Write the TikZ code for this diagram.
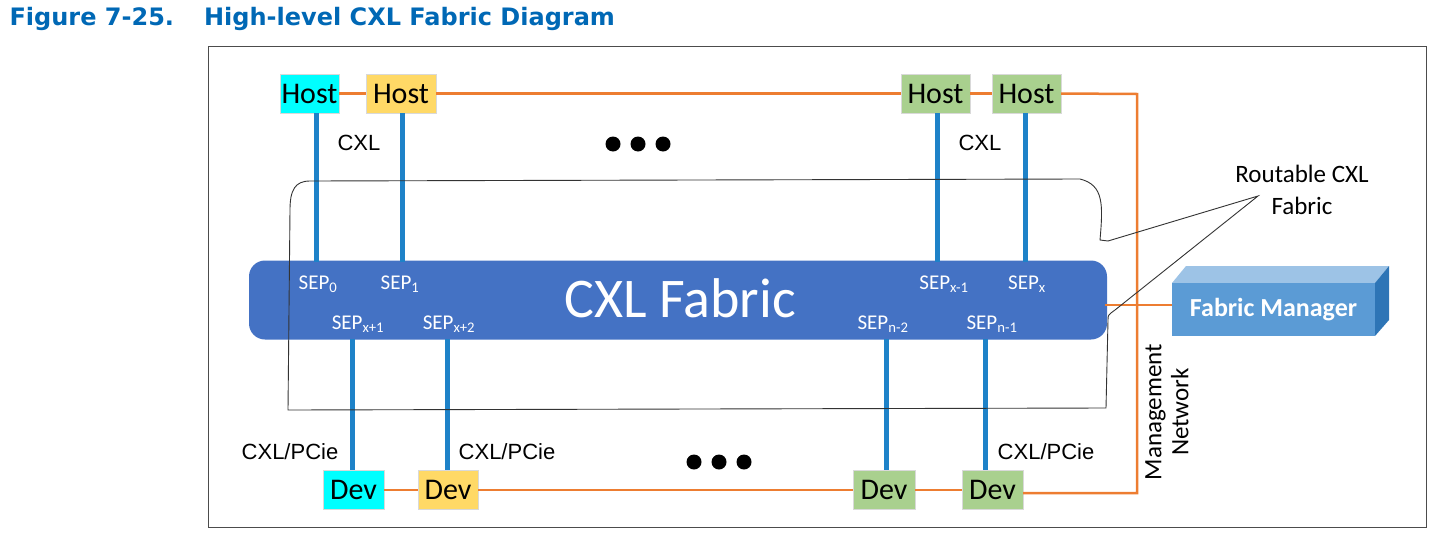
\documentclass[tikz,border=0pt]{standalone}
\usepackage{fontspec}
\setmainfont{Carlito}
\newfontfamily\titlefont{DejaVu Sans}
\newfontfamily\arialf{Liberation Sans}
\definecolor{ttl}{RGB}{0,104,181}
\definecolor{orng}{RGB}{237,125,49}
\definecolor{fab}{RGB}{68,114,196}
\definecolor{lnk}{RGB}{30,130,200}
\definecolor{cy}{RGB}{0,255,255}
\definecolor{yl}{RGB}{255,217,102}
\definecolor{gr}{RGB}{169,208,142}
\definecolor{fmf}{RGB}{91,155,213}
\definecolor{fmt}{RGB}{157,195,230}
\definecolor{fms}{RGB}{46,117,182}
\begin{document}
\begin{tikzpicture}[x=1pt,y=-1pt,
  box/.style={draw=black!15,minimum height=39pt,inner sep=0pt,font=\fontsize{30}{32}\selectfont},
  org/.style={draw=orng,line width=2.5pt},
  lk/.style={draw=lnk,line width=5pt},
  sep/.style={text=white,font=\fontsize{21}{23}\selectfont},
  lbl/.style={font=\arialf\fontsize{22}{24}\selectfont},
  dot/.style={circle,fill=black,inner sep=0pt,minimum size=15pt}]
\useasboundingbox (0,0) rectangle (1451,544);
\node[anchor=west,text=ttl,font=\titlefont\bfseries\fontsize{24}{26}\selectfont] (title) at (6,19) {Figure 7-25.\hspace{30pt}High-level CXL Fabric Diagram};
\draw[black!70] (208,46) rectangle (1426,527);
% fabric
\node[draw=none,fill=fab,rounded corners=16pt,minimum width=858pt,minimum height=79pt,inner sep=0pt] (fab) at (678,300) {};
\node[text=white,font=\fontsize{56}{60}\selectfont] (fabt) at (680,298) {CXL Fabric};
% hosts
\node[box,fill=cy,minimum width=59pt] (h0) at (309.5,93.5) {Host};
\node[box,fill=yl,minimum width=70pt] (h1) at (401,93.5) {Host};
\node[box,fill=gr,minimum width=69pt] (h2) at (935.5,93.5) {Host};
\node[box,fill=gr,minimum width=69pt] (h3) at (1026.5,93.5) {Host};
% devs
\node[box,fill=cy,minimum width=61pt] (d0) at (353.5,490) {Dev};
\node[box,fill=yl,minimum width=60pt] (d1) at (448,490) {Dev};
\node[box,fill=gr,minimum width=62pt] (d2) at (884,490) {Dev};
\node[box,fill=gr,minimum width=61pt] (d3) at (992.5,490) {Dev};
% fabric manager
\fill[fmt] (1172,283) -- (1186,266) -- (1389,266) -- (1375,283) -- cycle;
\fill[fms] (1375,283) -- (1389,266) -- (1389,320) -- (1375,336) -- cycle;
\node[fill=fmf,minimum width=203pt,minimum height=53pt,inner sep=0pt,text=white,font=\bfseries\fontsize{26}{28}\selectfont] (fm) at (1273.5,309.5) {Fabric Manager};
% management network
\coordinate (mt) at (1137,94);
\coordinate (mb) at (1137,493);
\coordinate (fe) at (1105,305);
\draw[org] (h0.east) -- (h1.west);
\draw[org] (h1.east) -- (h2.west);
\draw[org] (h2.east) -- (h3.west);
\draw[org] (h3.east) -- (mt) -- (mb) -- (d3.east |- mb);
\draw[org] (d0.east) -- (d1.west);
\draw[org] (d1.east) -- (d2.west);
\draw[org] (d2.east) -- (d3.west);
\draw[org] (fe) -- (fm.west |- fe);
\node[rotate=90,align=center,font=\fontsize{25}{27}\selectfont] (mn) at (1167,412) {Management\\Network};
% links
\draw[lk] (h0.south -| 316,0) -- (316,262);
\draw[lk] (h1.south -| 402,0) -- (402,262);
\draw[lk] (h2.south -| 937,0) -- (937,262);
\draw[lk] (h3.south -| 1025,0) -- (1025,262);
\draw[lk] (352,339) -- (d0.north -| 352,0);
\draw[lk] (447,339) -- (d1.north -| 447,0);
\draw[lk] (886,339) -- (d2.north -| 886,0);
\draw[lk] (985,339) -- (d3.north -| 985,0);
% SEP labels
\node[sep] (s0) at (318,284) {SEP\textsubscript{0}};
\node[sep] (s1) at (400,284) {SEP\textsubscript{1}};
\node[sep] (s2) at (944,284) {SEP\textsubscript{x-1}};
\node[sep] (s3) at (1027,284) {SEP\textsubscript{x}};
\node[sep] (s4) at (358,324) {SEP\textsubscript{x+1}};
\node[sep] (s5) at (449,324) {SEP\textsubscript{x+2}};
\node[sep] (s6) at (883,324) {SEP\textsubscript{n-2}};
\node[sep] (s7) at (992,324) {SEP\textsubscript{n-1}};
% labels
\node[lbl] (c0) at (359,143) {CXL};
\node[lbl] (c1) at (980,143) {CXL};
\node[lbl] (p0) at (290,452) {CXL/PCie};
\node[lbl] (p1) at (507,452) {CXL/PCie};
\node[lbl] (p2) at (1046,452) {CXL/PCie};
\foreach \i/\x in {a/613,b/638,c/663} \node[dot] (t\i) at (\x,144) {};
\foreach \i/\x in {a/694,b/719,c/744} \node[dot] (u\i) at (\x,462) {};
% routable outline
\node[align=center,font=\fontsize{25}{32}\selectfont] (rt) at (1302,190) {Routable CXL\\Fabric};
\coordinate (pt) at (1258,196);
\draw[black!80,line width=0.9pt] (1100,240) .. controls (1103,205) and (1104,185) .. (1080,179)
  -- (310,181) .. controls (295,181) and (290,190) .. (290,210) -- (288,410) -- (1106,408)
  -- (1108,320) .. controls (1108,315) .. (1115,310) -- (pt) -- (1108,241) -- cycle;
\end{tikzpicture}
\end{document}
